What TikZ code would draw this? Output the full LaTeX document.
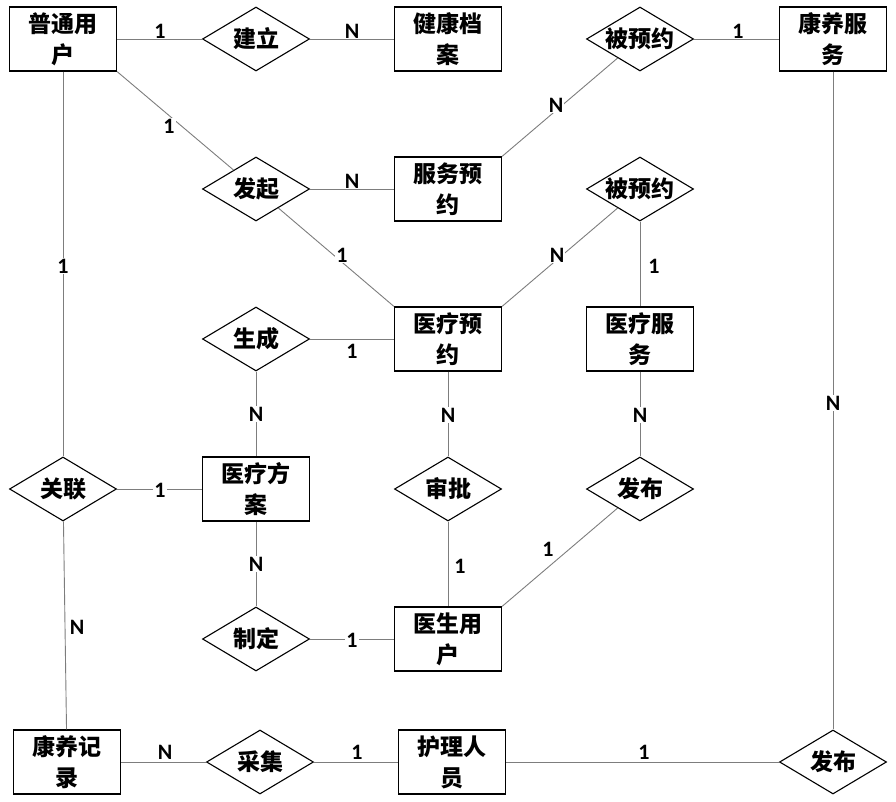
\documentclass[tikz,border=0pt]{standalone}
\usepackage{fontspec}
\setmainfont{Carlito}
\newfontfamily\cjk{Noto Sans CJK SC}
\usetikzlibrary{shapes.geometric}
\definecolor{linegray}{RGB}{125,125,125}
\tikzset{
  ent/.style={draw=black, line width=1.2pt, minimum width=107pt, minimum height=64pt, inner sep=0pt,
    align=center, font=\cjk\bfseries\fontsize{23}{31}\selectfont, fill=white},
  rel/.style={draw=black, line width=1.1pt, shape=diamond, aspect=1.67, minimum width=107pt, minimum height=64pt,
    inner sep=0pt, align=center, font=\cjk\bfseries\fontsize{23}{31}\selectfont, fill=white},
  conn/.style={draw=linegray, line width=0.9pt},
  lab/.style={fill=white, inner sep=1pt, font=\bfseries\fontsize{22}{22}\selectfont}
}
\begin{document}
\begin{tikzpicture}[x=1pt,y=-1pt]
\useasboundingbox (0,0) rectangle (896,802);
% nodes
\node[ent] (pt)   at (63,39)  {普通用\\户};
\node[rel] (jl)   at (256,39) {建立};
\node[ent] (jkda) at (448,39) {健康档\\案};
\node[rel] (byyA) at (640,39) {被预约};
\node[ent] (kyfw) at (833,39) {康养服\\务};
\node[rel] (fq)   at (256,189) {发起};
\node[ent] (fwyy) at (448,189) {服务预\\约};
\node[rel] (byyB) at (640,189) {被预约};
\node[rel] (sc)   at (256,339) {生成};
\node[ent] (ylyy) at (448,339) {医疗预\\约};
\node[ent] (ylfw) at (640,339) {医疗服\\务};
\node[rel] (gl)   at (63,489) {关联};
\node[ent] (ylfa) at (256,489) {医疗方\\案};
\node[rel] (sp)   at (448,489) {审批};
\node[rel] (fbA)  at (640,489) {发布};
\node[rel] (zd)   at (256,639) {制定};
\node[ent] (ysyh) at (448,639) {医生用\\户};
\node[ent] (kyjl) at (67,762) {康养记\\录};
\node[rel] (cj)   at (260,762) {采集};
\node[ent] (hlry) at (452,762) {护理人\\员};
\node[rel] (fbB)  at (833,762) {发布};
% connectors
\draw[conn] (pt) -- (jl);
\draw[conn] (jl) -- (jkda);
\draw[conn] (byyA) -- (kyfw);
\draw[conn] (byyA) -- (fwyy.north east);
\draw[conn] (pt.south east) -- (fq);
\draw[conn] (fq) -- (fwyy);
\draw[conn] (fq) -- (ylyy.north west);
\draw[conn] (byyB) -- (ylyy.north east);
\draw[conn] (byyB) -- (ylfw);
\draw[conn] (pt) -- (gl);
\draw[conn] (sc) -- (ylyy);
\draw[conn] (sc) -- (ylfa);
\draw[conn] (ylyy) -- (sp);
\draw[conn] (ylfw) -- (fbA);
\draw[conn] (kyfw) -- (fbB);
\draw[conn] (gl) -- (ylfa);
\draw[conn] (gl) -- (kyjl);
\draw[conn] (ylfa) -- (zd);
\draw[conn] (sp) -- (ysyh);
\draw[conn] (fbA) -- (ysyh.north east);
\draw[conn] (zd) -- (ysyh);
\draw[conn] (kyjl) -- (cj);
\draw[conn] (cj) -- (hlry);
\draw[conn] (hlry) -- (fbB);
% cardinality labels
\node[lab] (c1)  at (160,31)  {1};
\node[lab] (c2)  at (352,31)  {N};
\node[lab] (c3)  at (738,31)  {1};
\node[lab] (c4)  at (556,105) {N};
\node[lab] (c5)  at (169,126) {1};
\node[lab] (c6)  at (352,181) {N};
\node[lab] (c7)  at (342,255) {1};
\node[lab] (c8)  at (557,255) {N};
\node[lab] (c9)  at (654,266) {1};
\node[lab] (c10) at (63,266)  {1};
\node[lab] (c11) at (352,351) {1};
\node[lab] (c12) at (256,414) {N};
\node[lab] (c13) at (448,415) {N};
\node[lab] (c14) at (640,415) {N};
\node[lab] (c15) at (833,403) {N};
\node[lab] (c16) at (160,490) {1};
\node[lab] (c17) at (77,627)  {N};
\node[lab] (c18) at (256,564) {N};
\node[lab] (c19) at (460,566) {1};
\node[lab] (c20) at (548,549) {1};
\node[lab] (c21) at (352,640) {1};
\node[lab] (c22) at (165,752) {N};
\node[lab] (c23) at (357,752) {1};
\node[lab] (c24) at (644,752) {1};
\end{tikzpicture}
\end{document}
